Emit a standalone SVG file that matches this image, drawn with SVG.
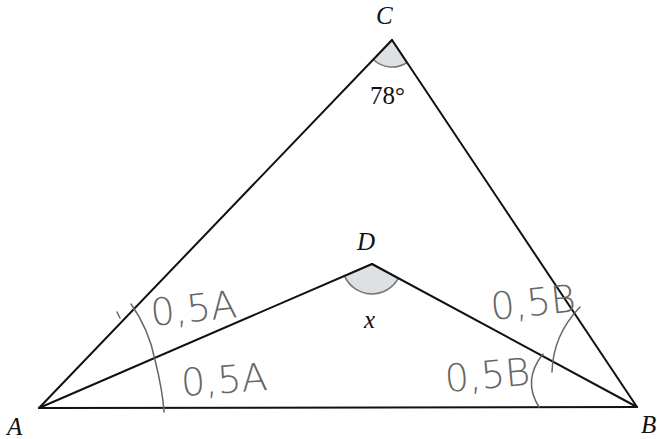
<svg xmlns="http://www.w3.org/2000/svg" width="657" height="439" viewBox="0 0 657 439">
<style>
.edge{stroke:#111;stroke-width:2;fill:none;stroke-linecap:round}
.ang{stroke:#777;stroke-width:1.6;fill:#dde1e4}
.hand{stroke:#666;stroke-width:1.5;fill:none;stroke-linecap:round}
.lbl{font-family:"Liberation Serif","DejaVu Serif",serif;font-style:italic;font-size:25px;fill:#111}
.num{font-family:"Liberation Serif","DejaVu Serif",serif;font-size:25px;fill:#111}
.hw{font-family:"DejaVu Sans","Liberation Sans",sans-serif;font-weight:200;fill:#666;font-size:38px}
</style>
<rect width="657" height="439" fill="#fff"/>
<g id="angles">
<path class="ang" d="M392,40 L373.3,59.5 A27,27 0 0 0 407,62.5 Z"/>
<path class="ang" d="M372,264 L344.5,275.9 A30,30 0 0 0 398.4,278.2 Z"/>
</g>
<g id="connectors">
<line class="edge" x1="39" y1="408" x2="392" y2="40"/>
<line class="edge" x1="392" y1="40" x2="637" y2="407"/>
<line class="edge" x1="39" y1="408" x2="637" y2="407"/>
<line class="edge" x1="39" y1="408" x2="372" y2="264"/>
<line class="edge" x1="372" y1="264" x2="637" y2="407"/>
</g>
<g id="node-C"><text class="lbl" x="376" y="24">C</text><text class="num" x="370" y="104">78°</text></g>
<g id="node-D"><text class="lbl" x="357" y="250">D</text><text class="lbl" x="364" y="328">x</text></g>
<g id="node-A"><text class="lbl" x="7" y="435">A</text></g>
<g id="node-B"><text class="lbl" x="641" y="433">B</text></g>
<g id="marks">
<path class="hand" d="M131,304 C146,325 152,345 155,360 C160,380 163,395 164,412"/>
<path class="hand" d="M117,312 L120,318"/>
<path class="hand" d="M543,354 Q522,380 539,407"/>
<path class="hand" d="M552,372 Q553,335 580,307"/>
<text class="hw" x="152" y="326" font-size="41" transform="rotate(-6 152 326)">0,5A</text>
<text class="hw" x="182" y="396" transform="rotate(-4 182 396)">0,5A</text>
<text class="hw" x="492" y="320" font-size="27" transform="rotate(-6 492 320)">0,5B</text>
<text class="hw" x="446" y="392" font-size="27" transform="rotate(-5 446 392)">0,5B</text>
</g>
</svg>
